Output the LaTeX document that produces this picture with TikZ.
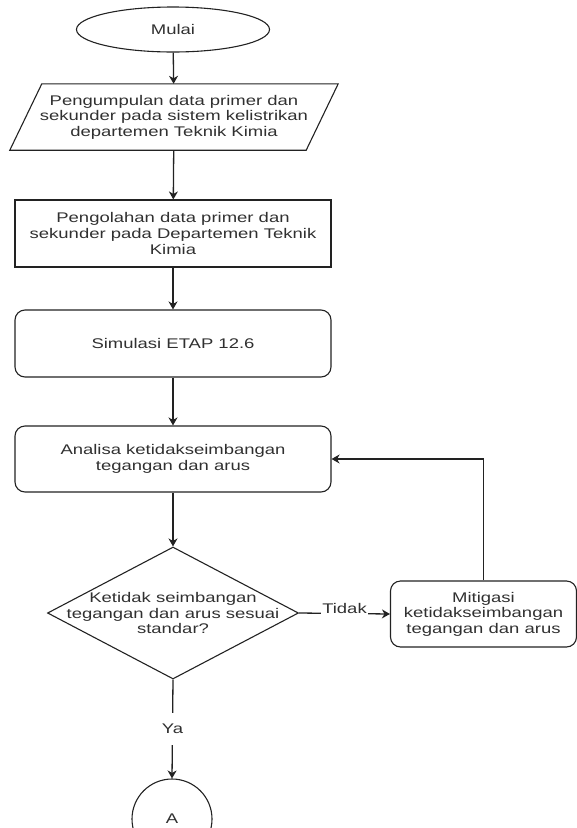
\documentclass[tikz,border=0pt]{standalone}
\usepackage{fontspec}
\setmainfont{Liberation Sans}[FakeStretch=1.32]
\usetikzlibrary{shapes.geometric,arrows.meta}
\definecolor{txt}{HTML}{303030}
\definecolor{ln}{HTML}{222222}
\begin{document}
\begin{tikzpicture}[x=1pt,y=-1pt,
  every node/.style={font=\fontsize{14}{15.6}\selectfont, text=txt, align=center, inner sep=0pt},
  shp/.style={draw=ln, line width=1.1pt},
  box/.style={shp, rectangle, minimum width=316pt, minimum height=67pt},
  rbox/.style={box, rounded corners=10pt},
  arr/.style={draw=ln, line width=1.3pt, -{Stealth[length=8pt,width=9pt,inset=2.5pt]}},
  lbl/.style={fill=white, inner sep=1.5pt}
  ]
\useasboundingbox (0,0) rectangle (577,828);

\node[shp, ellipse, minimum width=193pt, minimum height=45pt] (start) at (173,29.5) {Mulai};

\node[minimum width=296pt, minimum height=66pt] (par) at (174,117)
  {Pengumpulan data primer dan\\sekunder pada sistem kelistrikan\\departemen Teknik Kimia};
\draw[shp] ([xshift=16pt]par.north west) -- ([xshift=16pt]par.north east)
  -- ([xshift=-16pt]par.south east) -- ([xshift=-16pt]par.south west) -- cycle;

\node[box] (olah) at (173,233.5)
  {Pengolahan data primer dan\\sekunder pada Departemen Teknik\\Kimia};

\node[rbox] (sim) at (173,343.5) {Simulasi ETAP 12.6};

\node[rbox, minimum height=66pt] (anl) at (173,459)
  {Analisa ketidakseimbangan\\tegangan dan arus};

\node[shp, diamond, minimum width=251pt, minimum height=132pt] (dec) at (173,613) {};
\node (dectxt) at (dec.center) {Ketidak seimbangan\\tegangan dan arus sesuai\\standar?};

\node[rbox, minimum width=186pt, minimum height=66pt] (mit) at (483.5,614)
  {Mitigasi\\ketidakseimbangan\\tegangan dan arus};

\node[shp, circle, minimum size=80pt] (A) at (172,819) {A};

\draw[arr] (start) -- (par);
\draw[arr] (par) -- (olah);
\draw[arr] (olah) -- (sim);
\draw[arr] (sim) -- (anl);
\draw[arr] (anl) -- (dec);
\draw[arr] (dec.east) -- node[lbl, yshift=5pt] {Tidak} (mit.west);
\draw[arr] (mit.north) |- (anl.east);
\draw[arr] (dec.south) -- node[lbl, inner ysep=11pt] {Ya} (A.north);
\end{tikzpicture}
\end{document}
